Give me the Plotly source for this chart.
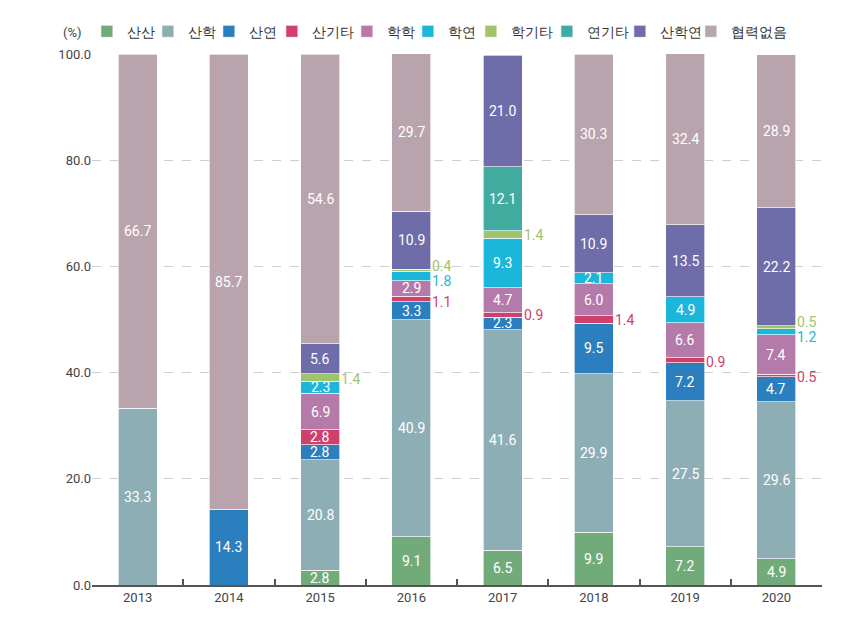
import numpy as np
import plotly.graph_objects as go

years = ["2013", "2014", "2015", "2016", "2017", "2018", "2019", "2020"]

sansan = [None, None, 2.8, 9.1, 6.5, 9.9, 7.2, 4.9]
sanhak = [33.3, None, 20.8, 40.9, 41.6, 29.9, 27.5, 29.6]
sanyeon = [None, 14.3, 2.8, 3.3, 2.3, 9.5, 7.2, 4.7]
sangita = [None, None, 2.8, 1.1, 0.9, 1.4, 0.9, 0.5]
hakhak = [None, None, 6.9, 2.9, 4.7, 6.0, 6.6, 7.4]
hakyeon = [None, None, 2.3, 1.8, 9.3, 2.1, 4.9, 1.2]
hakgita = [None, None, 1.4, 0.4, 1.4, None, None, 0.5]
yeongita = [None, None, None, None, 12.1, None, None, None]
sanhakyeon = [None, None, 5.6, 10.9, 21.0, 10.9, 13.5, 22.2]
none_coop = [66.7, 85.7, 54.6, 29.7, None, 30.3, 32.4, 28.9]

series_names = ["산산", "산학", "산연", "산기타", "학학", "학연", "학기타", "연기타", "산학연", "협력없음"]
series_values = [sansan, sanhak, sanyeon, sangita, hakhak, hakyeon, hakgita, yeongita, sanhakyeon, none_coop]
colors = ["#72ab7a", "#8eaeb6", "#2b7fbe", "#cf416b", "#b47aa9", "#1cb6da",
          "#9fc46c", "#3fac9f", "#6e6ca9", "#b9a4ad"]
legend_widths = [16, 16, 18, 30, 16, 18, 31, 28, 26, 54]

# small vertical nudges (px) for outside labels to avoid overlap
label_nudge = {("학기타", "2016"): 4, ("학연", "2016"): -5, ("산기타", "2016"): -3,
               ("산기타", "2019"): -2, ("학기타", "2020"): 5, ("학연", "2020"): -5,
               ("산기타", "2020"): -1, ("학기타", "2015"): -2}

fig = go.Figure()
for name, vals, col, lw in zip(series_names, series_values, colors, legend_widths):
    fig.add_trace(go.Bar(
        x=years, y=vals, name=name, width=0.43, legendwidth=lw,
        marker=dict(color=col, line=dict(color="rgba(255,255,255,0.8)", width=0.8)),
        hoverinfo="skip",
    ))

arr = np.array([[np.nan if v is None else v for v in s] for s in series_values])
filled = np.nan_to_num(arr)
cum = np.cumsum(filled, axis=0)
annotations = []
for i, name in enumerate(series_names):
    for j, yr in enumerate(years):
        v = arr[i, j]
        if np.isnan(v):
            continue
        mid = float(cum[i, j] - v / 2)
        if v >= 2:
            annotations.append(dict(x=j, y=mid, text=f"{v:.1f}", showarrow=False,
                                    font=dict(color="white", size=14, family="Roboto"),
                                    xanchor="center", yanchor="middle"))
        else:
            annotations.append(dict(x=j, y=mid, text=f"{v:.1f}", showarrow=False,
                                    font=dict(color=colors[i], size=14, family="Roboto"),
                                    xanchor="left", yanchor="middle", xshift=19,
                                    yshift=label_nudge.get((name, yr), 0)))

annotations.append(dict(xref="paper", yref="paper", x=0, y=1, xshift=-8, yshift=22,
                        text="(%)", showarrow=False, xanchor="right", yanchor="middle",
                        font=dict(size=13, color="#444", family="Roboto")))

fig.update_layout(
    barmode="stack",
    width=860, height=620,
    margin=dict(l=84, r=46, t=46, b=43, autoexpand=False),
    plot_bgcolor="white", paper_bgcolor="white",
    font=dict(family="Roboto", size=13, color="#444"),
    showlegend=True,
    legend=dict(orientation="h", x=-0.007, y=1.042, xanchor="left", yanchor="middle",
                font=dict(size=14, color="#333"), traceorder="normal",
                itemwidth=30, bgcolor="rgba(0,0,0,0)"),
    annotations=annotations,
    xaxis=dict(type="category", showline=True, linecolor="#555", linewidth=1.5,
               ticks="inside", tickson="boundaries", ticklen=6, tickcolor="#555",
               tickwidth=1.5, showgrid=False, tickfont=dict(size=13, color="#444"),
               range=[-0.5, 7.5]),
    yaxis=dict(range=[0, 100], dtick=20, tickformat=".1f", showgrid=True,
               gridcolor="#cfcfcf", griddash="dash", gridwidth=1, zeroline=False,
               showline=False, ticks="", tickfont=dict(size=13, color="#444")),
)

fig.write_html("out.html")
